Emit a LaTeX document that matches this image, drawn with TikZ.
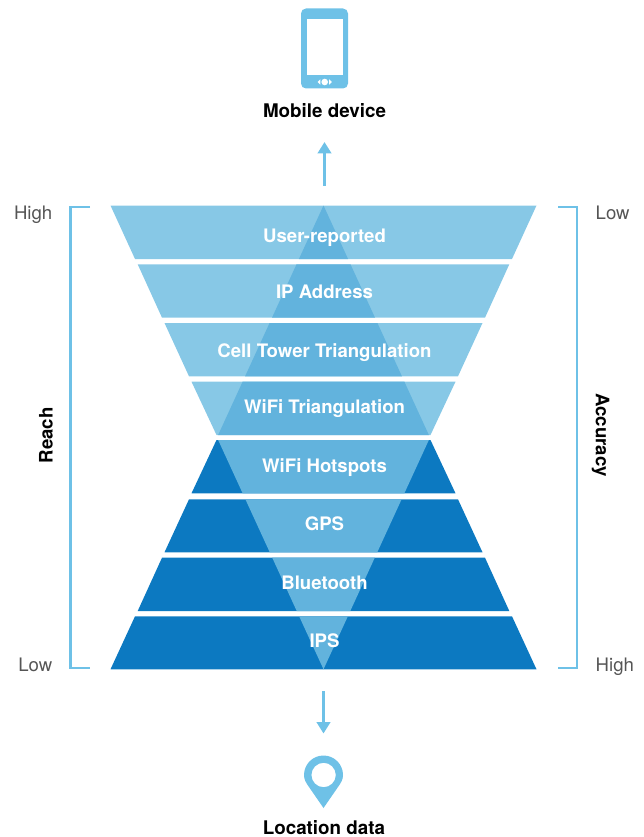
\documentclass[tikz,border=0pt]{standalone}
\usepackage{fontspec}
\setmainfont{TeX Gyre Heros}
\usetikzlibrary{arrows.meta}
\definecolor{bandlight}{HTML}{87C8E6}
\definecolor{bandmid}{HTML}{62B3DD}
\definecolor{banddark}{HTML}{0C79C1}
\definecolor{iconblue}{HTML}{6EC1E7}
\definecolor{graytext}{HTML}{555555}
\tikzset{
  bandlabel/.style={text=white,font=\bfseries\fontsize{18.6}{20}\selectfont,inner sep=0pt},
  title/.style={text=black,font=\bfseries\fontsize{18.8}{20}\selectfont,inner sep=0pt},
  scale label/.style={text=graytext,font=\fontsize{18.6}{20}\selectfont,inner sep=0pt},
  axis label/.style={text=black,font=\bfseries\fontsize{18.6}{20}\selectfont,inner sep=0pt},
  bracket/.style={draw=iconblue,line width=2.8pt,line cap=butt,line join=miter},
  flow/.style={draw=iconblue,line width=2.8pt,-{Triangle[length=11.5pt,width=13.5pt]}}
}
\begin{document}
\begin{tikzpicture}[x=1pt,y=-1pt]
\useasboundingbox (0,0) rectangle (644,837);
\def\bandsL{(110.5,205.5)--(536.5,205.5)--(512,259)--(135,259)--cycle
 (137.7,264.3)--(509.3,264.3)--(485,317.7)--(162,317.7)--cycle
 (164.5,323)--(482.5,323)--(458,376.3)--(189,376.3)--cycle
 (191.5,381.7)--(455.5,381.7)--(430.5,435)--(216.5,435)--cycle}
\def\bandsD{(216.5,440)--(430.5,440)--(455.5,493.3)--(191.5,493.3)--cycle
 (189,499.3)--(458,499.3)--(482.5,552.3)--(164.5,552.3)--cycle
 (162,557.7)--(485,557.7)--(509.3,611)--(137.7,611)--cycle
 (135,616.3)--(512,616.3)--(536.5,669.3)--(110.5,669.3)--cycle}
\fill[bandlight] \bandsL;
\fill[banddark] \bandsD;
\begin{scope}
  \clip \bandsL \bandsD;
  \fill[bandmid] (323.5,205.5)--(430,437.5)--(323.5,669.3)--(217,437.5)--cycle;
\end{scope}
\node[bandlabel,anchor=base] (b1) at (324.5,242.3) {User-reported};
\node[bandlabel,anchor=base] (b2) at (324.5,298.3) {IP Address};
\node[bandlabel,anchor=base] (b3) at (324.5,357.8) {Cell Tower Triangulation};
\node[bandlabel,anchor=base] (b4) at (324.5,413.3) {WiFi Triangulation};
\node[bandlabel,anchor=base] (b5) at (324.5,472) {WiFi Hotspots};
\node[bandlabel,anchor=base] (b6) at (324.5,530.5) {GPS};
\node[bandlabel,anchor=base] (b7) at (324.5,589.3) {Bluetooth};
\node[bandlabel,anchor=base] (b8) at (324.5,647.5) {IPS};
\draw[bracket] (90,207)--(70.5,207)--(70.5,668)--(90,668);
\draw[bracket] (558,207)--(577,207)--(577,668)--(558,668);
\node[scale label,anchor=base east] (lh) at (52.5,219.5) {High};
\node[scale label,anchor=base east] (ll) at (52.5,671.5) {Low};
\node[scale label,anchor=base west] (rl) at (595.5,219) {Low};
\node[scale label,anchor=base west] (rh) at (595.5,671) {High};
\node[axis label,rotate=90] (reach) at (46,435.5) {Reach};
\node[axis label,rotate=-90] (accuracy) at (600.5,435) {Accuracy};
% phone icon
\fill[iconblue,rounded corners=5pt] (301,8.5) rectangle (348,88.5);
\fill[white] (306.5,19) rectangle (343,75);
\fill[white] (324.7,82) circle (3.3pt);
\fill[white] (317.5,82)--(320.3,79.3)--(320.3,84.7)--cycle;
\fill[white] (331.9,82)--(329.1,79.3)--(329.1,84.7)--cycle;
\node[title,anchor=base] (device) at (324.5,117.3) {Mobile device};
% pin icon
\fill[iconblue,even odd rule]
  (323.5,808) -- (309,787) .. controls (306,782.5) and (304,780) .. (304,775)
  arc[start angle=180,end angle=360,radius=19.5]
  .. controls (343,780) and (341,782.5) .. (338,787) -- cycle
  (335.8,775) arc[start angle=0,end angle=360,radius=12.2];
\node[title,anchor=base] (location) at (324,834.5) {Location data};
\coordinate (upstart) at (324.5,185.5);
\coordinate (upend) at (324.5,142);
\coordinate (downstart) at (323.5,691);
\coordinate (downend) at (323.5,733.5);
\draw[flow] (upstart)--(upend);
\draw[flow] (downstart)--(downend);
\end{tikzpicture}
\end{document}
